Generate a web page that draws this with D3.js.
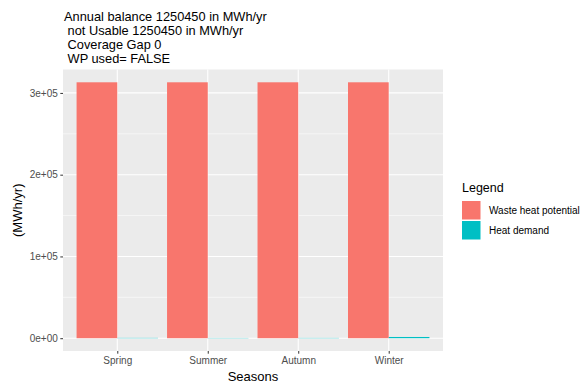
<!DOCTYPE html>
<html>
<head>
<meta charset="utf-8">
<script src="https://cdn.jsdelivr.net/npm/d3@7"></script>
<style>
  html, body { margin: 0; padding: 0; background: #fff; }
  svg { display: block; font-family: "Liberation Sans", Arial, sans-serif; }
</style>
</head>
<body>
<svg id="chart" width="584" height="383"></svg>
<script>
// Seasonal waste heat potential vs. heat demand (MWh/yr)
const seasons = ["Spring", "Summer", "Autumn", "Winter"];
const seriesNames = ["Waste heat potential", "Heat demand"];
const wasteHeat = [313000, 313000, 313000, 313000];
const heatDemand = [400, 300, 350, 1500];
const yTicks = [0, 100000, 200000, 300000];
const yTickLabels = ["0e+00", "1e+05", "2e+05", "3e+05"];
const titleLines = [
  "Annual balance 1250450 in MWh/yr",
  " not Usable 1250450 in MWh/yr",
  " Coverage Gap 0",
  " WP used= FALSE"
];
const colors = ["#F8766D", "#00BFC4"];

const svg = d3.select("#chart");
const panel = { left: 63, right: 443, top: 69.5, bottom: 351 };

// discrete x with ggplot-like 0.6 expansion on each side
const x = d3.scalePoint().domain(seasons).range([panel.left, panel.right]).padding(0.6);
const step = x.step();
const dodge = d3.scaleBand().domain(seriesNames).range([-0.45 * step, 0.45 * step]);

const yMax = d3.max(wasteHeat.concat(heatDemand));
const y = d3.scaleLinear()
  .domain([-0.05 * yMax, 1.05 * yMax])
  .range([panel.bottom, panel.top]);

// panel background
svg.append("rect")
  .attr("x", panel.left).attr("y", panel.top)
  .attr("width", panel.right - panel.left).attr("height", panel.bottom - panel.top)
  .attr("fill", "#EBEBEB");

// minor horizontal grid
const minor = yTicks.slice(0, -1).map((t, i) => (t + yTicks[i + 1]) / 2);
svg.append("g").selectAll("line").data(minor).join("line")
  .attr("x1", panel.left).attr("x2", panel.right)
  .attr("y1", d => y(d)).attr("y2", d => y(d))
  .attr("stroke", "#fff").attr("stroke-width", 0.55);

// major grid
svg.append("g").selectAll("line").data(yTicks).join("line")
  .attr("x1", panel.left).attr("x2", panel.right)
  .attr("y1", d => y(d)).attr("y2", d => y(d))
  .attr("stroke", "#fff").attr("stroke-width", 1.1);
svg.append("g").selectAll("line").data(seasons).join("line")
  .attr("x1", d => x(d)).attr("x2", d => x(d))
  .attr("y1", panel.top).attr("y2", panel.bottom)
  .attr("stroke", "#fff").attr("stroke-width", 1.1);

// bars
const rows = seasons.map((s, i) => [
  { season: s, series: seriesNames[0], value: wasteHeat[i], color: colors[0] },
  { season: s, series: seriesNames[1], value: heatDemand[i], color: colors[1] }
]).flat();
svg.append("g").selectAll("rect").data(rows).join("rect")
  .attr("x", d => x(d.season) + dodge(d.series))
  .attr("width", dodge.bandwidth())
  .attr("y", d => y(Math.max(0, d.value)))
  .attr("height", d => Math.abs(y(d.value) - y(0)))
  .attr("fill", d => d.color);

// y axis
const yAxis = d3.axisLeft(y).tickValues(yTicks)
  .tickFormat((d, i) => yTickLabels[i]).tickSize(2.7).tickPadding(2.5);
const gy = svg.append("g").attr("transform", `translate(${panel.left},0)`).call(yAxis);
gy.select(".domain").remove();
gy.selectAll(".tick line").attr("stroke", "#333").attr("stroke-width", 1);
gy.selectAll(".tick text").attr("fill", "#4D4D4D").attr("font-size", 10)
  .attr("font-family", "Liberation Sans, Arial, sans-serif");

// x axis
const xAxis = d3.axisBottom(x).tickSize(2.7).tickPadding(3);
const gx = svg.append("g").attr("transform", `translate(0,${panel.bottom})`).call(xAxis);
gx.select(".domain").remove();
gx.selectAll(".tick line").attr("stroke", "#333").attr("stroke-width", 1);
gx.selectAll(".tick text").attr("fill", "#4D4D4D").attr("font-size", 10)
  .attr("font-family", "Liberation Sans, Arial, sans-serif");

// axis titles
svg.append("text")
  .attr("x", (panel.left + panel.right) / 2).attr("y", 381)
  .attr("text-anchor", "middle").attr("font-size", 13).attr("fill", "#000")
  .text("Seasons");
svg.append("text")
  .attr("transform", `translate(22,${(panel.top + panel.bottom) / 2}) rotate(-90)`)
  .attr("text-anchor", "middle").attr("font-size", 13).attr("fill", "#000")
  .text("(MWh/yr)");

// title block
svg.append("g").selectAll("text").data(titleLines).join("text")
  .attr("x", 64).attr("y", (d, i) => 20.5 + i * 14)
  .attr("font-size", 12.8).attr("fill", "#000")
  .attr("xml:space", "preserve").style("white-space", "pre")
  .text(d => d);

// legend
const lg = svg.append("g");
lg.append("text").attr("x", 462).attr("y", 192)
  .attr("font-size", 12.5).attr("fill", "#000").text("Legend");
const items = lg.selectAll("g.item").data(seriesNames).join("g").attr("class", "item")
  .attr("transform", (d, i) => `translate(462,${201 + i * 20})`);
items.append("rect").attr("width", 18.5).attr("height", 18.5)
  .attr("fill", (d, i) => colors[i]);
items.append("text").attr("x", 27).attr("y", 13)
  .attr("font-size", 10).attr("fill", "#000").text(d => d);
</script>
</body>
</html>
